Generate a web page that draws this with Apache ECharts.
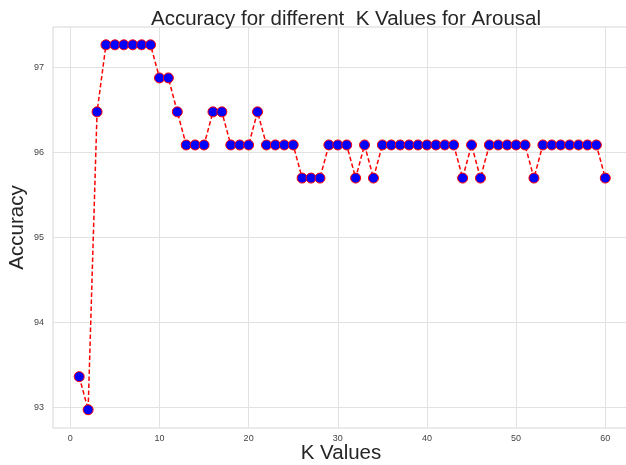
<!DOCTYPE html>
<html>
<head>
<meta charset="utf-8">
<script src="https://cdn.jsdelivr.net/npm/echarts@6/dist/echarts.min.js"></script>
<style>html,body{margin:0;padding:0;background:#fff}#c{width:626px;height:465px}</style>
</head>
<body>
<div id="c"></div>
<script>
const kValues = [];
for (let k = 1; k <= 60; k++) kValues.push(k);
const accuracy = [
  93.36, 92.97, 96.48, 97.27, 97.27, 97.27, 97.27, 97.27, 97.27, 96.88,
  96.88, 96.48, 96.09, 96.09, 96.09, 96.48, 96.48, 96.09, 96.09, 96.09,
  96.48, 96.09, 96.09, 96.09, 96.09, 95.70, 95.70, 95.70, 96.09, 96.09,
  96.09, 95.70, 96.09, 95.70, 96.09, 96.09, 96.09, 96.09, 96.09, 96.09,
  96.09, 96.09, 96.09, 95.70, 96.09, 95.70, 96.09, 96.09, 96.09, 96.09,
  96.09, 95.70, 96.09, 96.09, 96.09, 96.09, 96.09, 96.09, 96.09, 95.70
];
const xTicks = [0, 10, 20, 30, 40, 50, 60];
const yTicks = [93, 94, 95, 96, 97];

const chart = echarts.init(document.getElementById('c'), null, {renderer: 'canvas'});
const font = 'Liberation Sans, Arial, sans-serif';
chart.setOption({
  animation: false,
  backgroundColor: '#ffffff',
  title: {
    text: 'Accuracy for different  K Values for Arousal',
    left: 341, textAlign: 'center', top: 4,
    textStyle: {fontFamily: font, fontSize: 20.5, fontWeight: 'normal', color: '#262626'}
  },
  grid: {left: 53, right: -3, top: 27, bottom: 37, outerBoundsMode: 'none', containLabel: false,
    show: true, borderColor: '#d6d6d6', borderWidth: 1, backgroundColor: 'transparent'},
  xAxis: {
    type: 'value', min: -1.94, max: 62.66,
    name: 'K Values', nameLocation: 'middle', nameGap: 15, nameMoveOverlap: false,
    nameTextStyle: {fontFamily: font, fontSize: 20.5, color: '#262626', verticalAlign: 'top'},
    axisLine: {show: false},
    axisTick: {show: false, customValues: xTicks},
    axisLabel: {customValues: xTicks, fontFamily: font, fontSize: 9, color: '#444', margin: 6},
    splitLine: {show: true, lineStyle: {color: '#e2e2e2', width: 1}}
  },
  yAxis: {
    type: 'value', min: 92.755, max: 97.48,
    name: 'Accuracy', nameLocation: 'middle', nameGap: 25, nameMoveOverlap: false,
    nameTextStyle: {fontFamily: font, fontSize: 20.5, color: '#262626'},
    axisLine: {show: false},
    axisTick: {show: false, customValues: yTicks},
    axisLabel: {customValues: yTicks, fontFamily: font, fontSize: 9, color: '#444', margin: 9},
    splitLine: {show: true, lineStyle: {color: '#e2e2e2', width: 1}}
  },
  series: [{
    type: 'line',
    data: kValues.map((k, i) => [k, accuracy[i]]),
    symbol: 'circle', symbolSize: 10,
    itemStyle: {color: '#0000ff', borderColor: '#ff0000', borderWidth: 1},
    lineStyle: {color: '#ff0000', width: 1.5, type: [4.5, 2.5]},
    z: 3
  }]
});
</script>
</body>
</html>
